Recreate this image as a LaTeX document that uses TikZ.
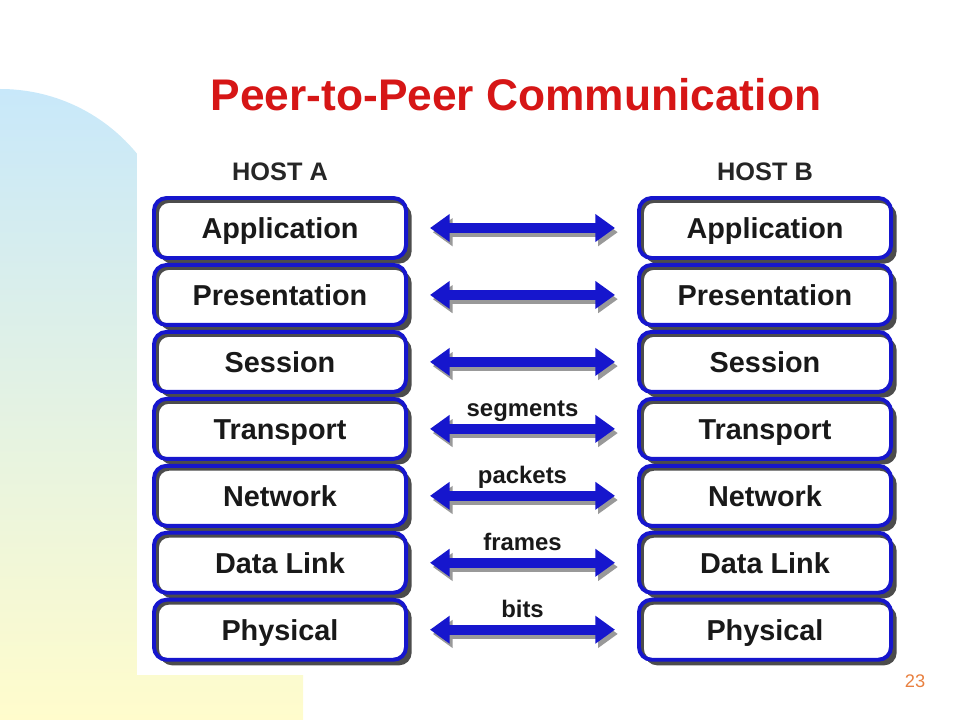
\documentclass[tikz,border=0pt]{standalone}
\usepackage{fontspec}
\setmainfont{Liberation Sans}
\usetikzlibrary{arrows.meta,positioning,shadows}

\definecolor{osiblue}{RGB}{22,22,205}
\definecolor{titlered}{RGB}{214,22,22}
\definecolor{pagenum}{RGB}{232,128,64}
\definecolor{bgblue}{RGB}{200,232,250}
\definecolor{bgyellow}{RGB}{255,252,204}

\begin{document}
\begin{tikzpicture}[
    x=0.025cm, y=-0.025cm,
    node distance=0.075cm,
    every node/.style={font=\bfseries},
    title/.style={
      font=\fontsize{31.5}{36}\selectfont\bfseries, text=titlered
    },
    host/.style={
      font=\fontsize{18}{21}\selectfont\bfseries, text=black!85
    },
    layer/.style={
      draw=osiblue, line width=2.8pt, fill=white,
      rounded corners=9pt, text=black!90,
      minimum width=6.3cm, minimum height=1.5cm,
      text height=14.7pt, text depth=0pt,
      font=\fontsize{20.5}{24}\selectfont\bfseries,
      drop shadow={shadow xshift=4pt, shadow yshift=-4pt,
        fill=black!70, opacity=1},
      path picture={
        \draw[black!70, line width=4pt, rounded corners=9pt]
          ([shift={(1.5pt,-1.5pt)}]path picture bounding box.south west)
          rectangle
          ([shift={(1.5pt,-1.5pt)}]path picture bounding box.north east);
      }
    },
    pdu/.style={
      font=\fontsize{17}{20}\selectfont\bfseries, text=black!90,
      text height=12pt, text depth=3.5pt, above=2pt
    },
    peer/.style={
      draw=osiblue, line width=7pt,
      {Triangle[length=14pt,width=19pt]}-{Triangle[length=14pt,width=19pt]},
      shorten <=0.55cm, shorten >=0.55cm,
      preaction={
        draw=black!40, line width=7pt,
        {Triangle[length=14pt,width=19pt]}-{Triangle[length=14pt,width=19pt]},
        shorten <=0.55cm, shorten >=0.55cm,
        transform canvas={shift={(2pt,-3pt)}}
      }
    },
    pagenum/.style={
      font=\fontsize{13}{15}\selectfont, text=pagenum
    }
  ]

    \useasboundingbox (0,0) rectangle (960,720);

    % slide background
    \shade[top color=bgblue, bottom color=bgyellow]
      (0,720) -- (0,89) .. controls (98,89) and (177,168) .. (177,266)
      -- (177,675) -- (303,675) -- (303,720) -- cycle;
    \fill[white] (137,0) rectangle (960,675);

    \node[title] (title) at (516,95) {Peer-to-Peer Communication};

    % host A
    \node[layer] (appA) at (280,228) {Application};
    \node[layer, below=of appA] (presA) {Presentation};
    \node[layer, below=of presA] (sessA) {Session};
    \node[layer, below=of sessA] (transA) {Transport};
    \node[layer, below=of transA] (netA) {Network};
    \node[layer, below=of netA] (linkA) {Data Link};
    \node[layer, below=of linkA] (physA) {Physical};

    % host B
    \node[layer] (appB) at (765,228) {Application};
    \node[layer, below=of appB] (presB) {Presentation};
    \node[layer, below=of presB] (sessB) {Session};
    \node[layer, below=of sessB] (transB) {Transport};
    \node[layer, below=of transB] (netB) {Network};
    \node[layer, below=of netB] (linkB) {Data Link};
    \node[layer, below=of linkB] (physB) {Physical};

    \node[host, above=0.27cm of appA] (hostA) {HOST A};
    \node[host, above=0.27cm of appB] (hostB) {HOST B};

    \draw[peer] (appA)   -- (appB);
    \draw[peer] (presA)  -- (presB);
    \draw[peer] (sessA)  -- (sessB);
    \draw[peer] (transA) -- (transB);
    \draw[peer] (netA)   -- (netB);
    \draw[peer] (linkA)  -- (linkB);
    \draw[peer] (physA)  -- (physB);

    \path (transA) -- node[pdu] (segments) {segments} (transB);
    \path (netA)   -- node[pdu] (packets) {packets} (netB);
    \path (linkA)  -- node[pdu] (frames) {frames} (linkB);
    \path (physA)  -- node[pdu] (bits) {bits} (physB);

    \node[pagenum] (page) at (915,681) {23};

  \end{tikzpicture}
\end{document}
